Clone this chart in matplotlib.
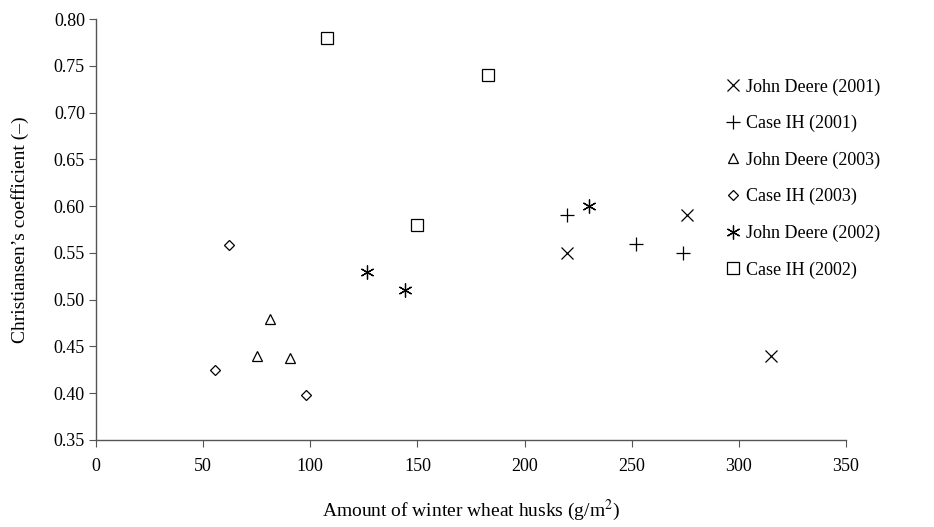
import matplotlib
matplotlib.use('Agg')
import matplotlib.pyplot as plt

plt.rcParams['font.family'] = ['Liberation Serif', 'DejaVu Serif']
plt.rcParams['mathtext.fontset'] = 'stix'

# series
series_names = ['John Deere (2001)', 'Case IH (2001)', 'John Deere (2003)',
                'Case IH (2003)', 'John Deere (2002)', 'Case IH (2002)']
jd2001_x = [220, 276, 315]
jd2001_y = [0.55, 0.59, 0.44]
ci2001_x = [220, 252, 274]
ci2001_y = [0.59, 0.56, 0.55]
jd2003_x = [75, 81, 90.5]
jd2003_y = [0.44, 0.479, 0.438]
ci2003_x = [55.5, 62, 98]
ci2003_y = [0.425, 0.558, 0.398]
jd2002_x = [126.5, 144, 230]
jd2002_y = [0.53, 0.51, 0.60]
ci2002_x = [108, 183, 150]
ci2002_y = [0.78, 0.74, 0.58]

xs = [jd2001_x, ci2001_x, jd2003_x, ci2003_x, jd2002_x, ci2002_x]
ys = [jd2001_y, ci2001_y, jd2003_y, ci2003_y, jd2002_y, ci2002_y]
markers = ['x', '+', '^', 'D', (6, 2, 0), 's']
sizes = [9, 10, 7, 5, 10, 9]
filled = [True, True, False, False, True, False]

fig = plt.figure(figsize=(9.34, 5.27), dpi=100)
ax = fig.add_axes([96/934, 1 - 440/527, 750/934, 421/527])

for x, y, name, m, s, f in zip(xs, ys, series_names, markers, sizes, filled):
    if f:
        ax.plot(x, y, linestyle='none', marker=m, markersize=s, color='black',
                markeredgewidth=0.9, label=name)
    else:
        ax.plot(x, y, linestyle='none', marker=m, markersize=s, markerfacecolor='white',
                markeredgecolor='black', markeredgewidth=0.9, label=name)

ax.set_xlim(0, 350)
ax.set_ylim(0.35, 0.80)
ax.set_xticks(range(0, 351, 50))
ax.set_yticks([0.35 + 0.05 * i for i in range(10)])
ax.yaxis.set_major_formatter(matplotlib.ticker.FormatStrFormatter('%.2f'))
for sp in ['top', 'right']:
    ax.spines[sp].set_visible(False)
for sp in ['left', 'bottom']:
    ax.spines[sp].set_color('#555555')
    ax.spines[sp].set_linewidth(1.0)
ax.tick_params(axis='both', direction='out', length=5, color='#555555', labelsize=13)
ax.tick_params(axis='x', pad=8)
ax.tick_params(axis='y', pad=3)

ax.set_xlabel('Amount of winter wheat husks (g/m$^2$)', fontsize=14, labelpad=16)
ax.set_ylabel('Christiansen\u2019s coefficient (\u2013)', fontsize=14, labelpad=18)

fig.legend(loc='upper left', bbox_to_anchor=(719/934, 1 - 71/527), frameon=False,
           fontsize=13, handlelength=0.8, handletextpad=0.3, labelspacing=1.07,
           borderaxespad=0)

fig.savefig('out.png', dpi=100)
